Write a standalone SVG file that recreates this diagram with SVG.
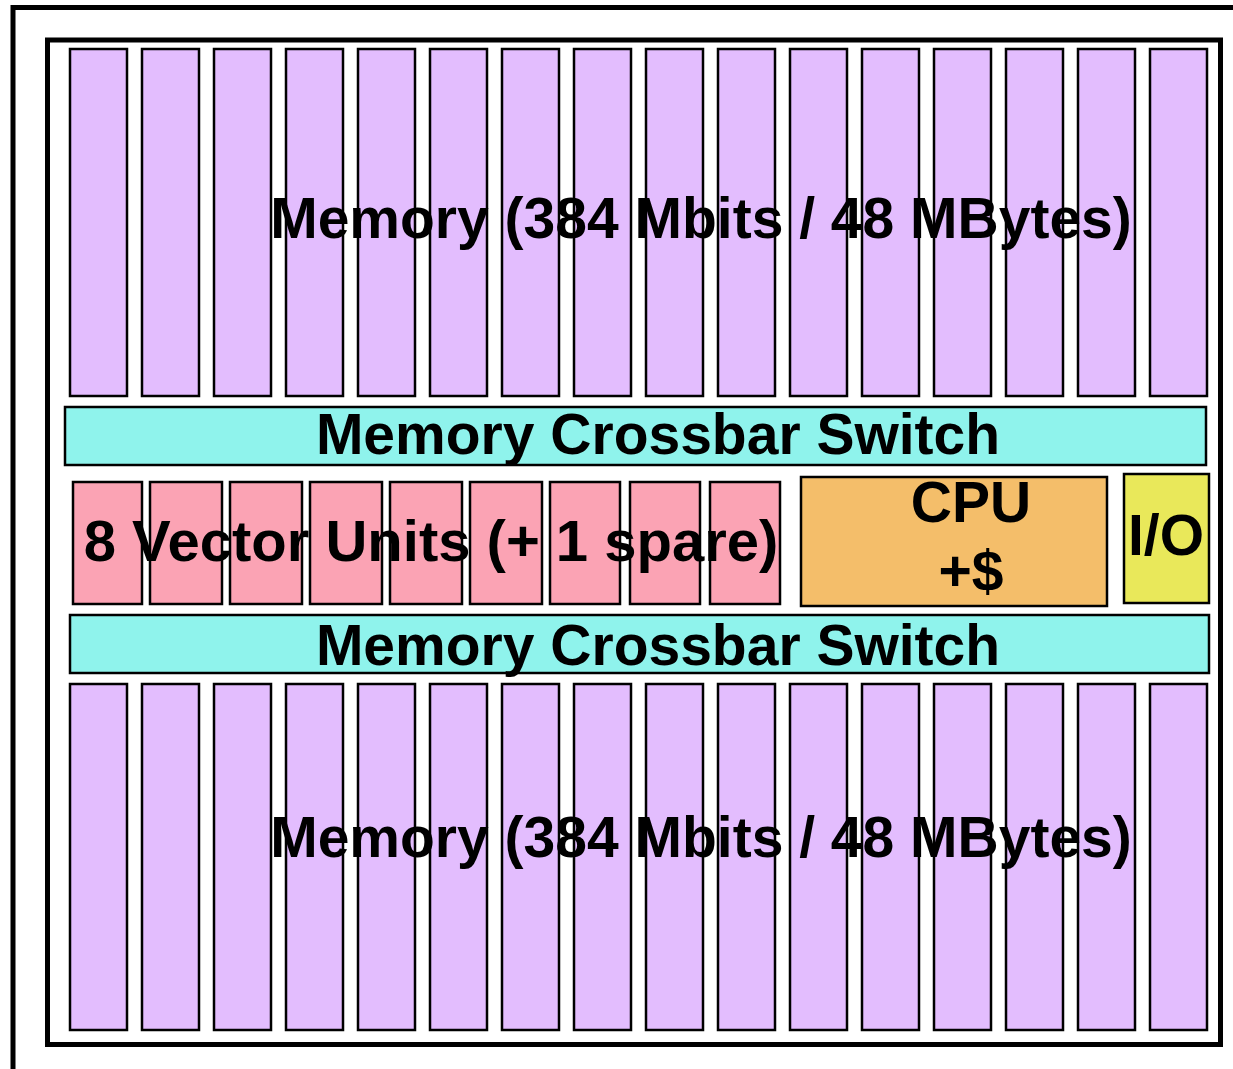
<svg xmlns="http://www.w3.org/2000/svg" width="1233" height="1069" viewBox="0 0 1233 1069">
<style>
.frame{fill:none;stroke:#000;stroke-width:5}
.mem{fill:#E3BDFE;stroke:#000;stroke-width:2.5}
.xbar{fill:#8FF3EC;stroke:#000;stroke-width:2.5}
.vu{fill:#FBA3B4;stroke:#000;stroke-width:2.5}
.cpu{fill:#F4BE6A;stroke:#000;stroke-width:2.5}
.io{fill:#E9E85A;stroke:#000;stroke-width:2.5}
.t{font-family:"Liberation Sans",Arial,sans-serif;font-weight:bold;font-size:57px;fill:#000;text-anchor:middle}
</style>
<rect width="1233" height="1069" fill="#fff"/>
<g id="frames">
<rect class="frame" x="13" y="7.5" width="1240" height="1100"/>
<rect class="frame" x="47.5" y="40" width="1173" height="1004.5"/>
</g>
<g id="memory-top">
<rect class="mem" x="70" y="49" width="57" height="347"/>
<rect class="mem" x="142" y="49" width="57" height="347"/>
<rect class="mem" x="214" y="49" width="57" height="347"/>
<rect class="mem" x="286" y="49" width="57" height="347"/>
<rect class="mem" x="358" y="49" width="57" height="347"/>
<rect class="mem" x="430" y="49" width="57" height="347"/>
<rect class="mem" x="502" y="49" width="57" height="347"/>
<rect class="mem" x="574" y="49" width="57" height="347"/>
<rect class="mem" x="646" y="49" width="57" height="347"/>
<rect class="mem" x="718" y="49" width="57" height="347"/>
<rect class="mem" x="790" y="49" width="57" height="347"/>
<rect class="mem" x="862" y="49" width="57" height="347"/>
<rect class="mem" x="934" y="49" width="57" height="347"/>
<rect class="mem" x="1006" y="49" width="57" height="347"/>
<rect class="mem" x="1078" y="49" width="57" height="347"/>
<rect class="mem" x="1150" y="49" width="57" height="347"/>
<text class="t" x="701" y="238">Memory (384 Mbits / 48 MBytes)</text>
</g>
<g id="crossbar-top">
<rect class="xbar" x="65" y="407" width="1141" height="58"/>
<text class="t" x="658" y="454">Memory Crossbar Switch</text>
</g>
<g id="vector-units">
<rect class="vu" x="73" y="482" width="69" height="122"/>
<rect class="vu" x="150" y="482" width="72" height="122"/>
<rect class="vu" x="230" y="482" width="72" height="122"/>
<rect class="vu" x="310" y="482" width="72" height="122"/>
<rect class="vu" x="390" y="482" width="72" height="122"/>
<rect class="vu" x="470" y="482" width="72" height="122"/>
<rect class="vu" x="550" y="482" width="70" height="122"/>
<rect class="vu" x="630" y="482" width="70" height="122"/>
<rect class="vu" x="710" y="482" width="70" height="122"/>
<text class="t" x="431" y="561" style="font-size:58px">8 Vector Units (+ 1 spare)</text>
</g>
<g id="cpu">
<rect class="cpu" x="801" y="477" width="306" height="129"/>
<text class="t" x="971" y="522">CPU</text>
<text class="t" x="971" y="591">+$</text>
</g>
<g id="io">
<rect class="io" x="1124" y="474" width="85" height="129"/>
<text class="t" x="1166" y="555">I/O</text>
</g>
<g id="crossbar-bottom">
<rect class="xbar" x="70" y="615" width="1139" height="58"/>
<text class="t" x="658" y="665">Memory Crossbar Switch</text>
</g>
<g id="memory-bottom">
<rect class="mem" x="70" y="684" width="57" height="346"/>
<rect class="mem" x="142" y="684" width="57" height="346"/>
<rect class="mem" x="214" y="684" width="57" height="346"/>
<rect class="mem" x="286" y="684" width="57" height="346"/>
<rect class="mem" x="358" y="684" width="57" height="346"/>
<rect class="mem" x="430" y="684" width="57" height="346"/>
<rect class="mem" x="502" y="684" width="57" height="346"/>
<rect class="mem" x="574" y="684" width="57" height="346"/>
<rect class="mem" x="646" y="684" width="57" height="346"/>
<rect class="mem" x="718" y="684" width="57" height="346"/>
<rect class="mem" x="790" y="684" width="57" height="346"/>
<rect class="mem" x="862" y="684" width="57" height="346"/>
<rect class="mem" x="934" y="684" width="57" height="346"/>
<rect class="mem" x="1006" y="684" width="57" height="346"/>
<rect class="mem" x="1078" y="684" width="57" height="346"/>
<rect class="mem" x="1150" y="684" width="57" height="346"/>
<text class="t" x="701" y="857">Memory (384 Mbits / 48 MBytes)</text>
</g>
<g id="connectors"></g>
</svg>
